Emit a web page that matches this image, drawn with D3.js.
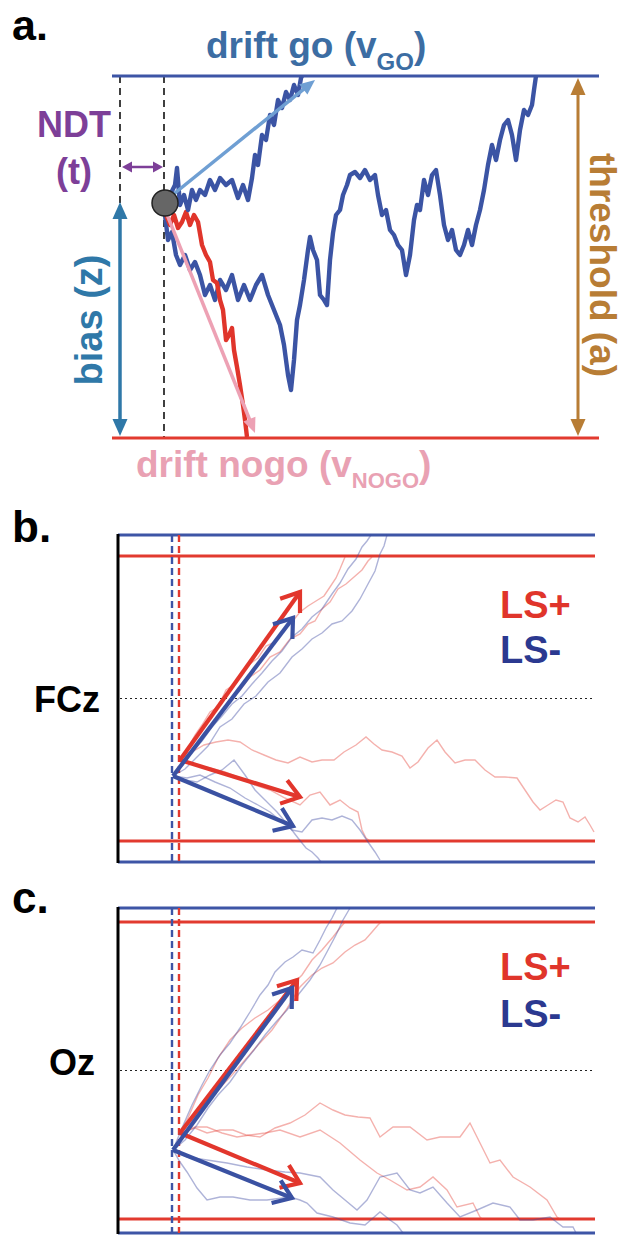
<!DOCTYPE html>
<html>
<head>
<meta charset="utf-8">
<script src="https://cdn.jsdelivr.net/npm/d3@7"></script>
<style>
  body { margin: 0; background: #fff; }
  svg { display: block; }
  text { font-family: "Liberation Sans", Arial, sans-serif; font-weight: bold; }
</style>
</head>
<body>
<div id="content"></div>
<script>
// ---- panel a : single-trial schematic (time in ms, evidence in arbitrary units)
const aThreshold = 362, aBias = 235, aNdt = 52, aNdtStart = 8, aTimeMax = 487;
const aDriftGo = [[58, 241], [203, 358]];
const aDriftNogo = [[54, 226], [143, 5]];
const aWalkGoFast = [[52,235],[58,243],[63,253],[65,270],[68,233],[72,243],[76,228],[80,248],[84,238],[88,248],[93,243],[98,258],[103,248],[108,260],[114,253],[120,258],[126,240],[131,253],[136,238],[140,260],[143,283],[146,273],[150,303],[154,298],[158,323],[162,313],[166,338],[170,330],[174,346],[178,338],[182,353],[186,343],[189,360],[190,362]];
const aWalkGoSlow = [[53,223],[56,198],[60,206],[64,183],[68,173],[73,183],[78,168],[83,176],[88,163],[93,143],[98,153],[103,138],[108,158],[114,148],[120,163],[126,138],[132,153],[138,138],[144,153],[150,163],[156,143],[162,128],[168,113],[172,93],[176,63],[179,48],[182,78],[185,118],[188,133],[192,158],[196,188],[198,201],[201,188],[205,178],[208,143],[212,138],[215,133],[218,178],[221,205],[224,223],[228,228],[231,243],[235,253],[238,263],[243,266],[248,260],[253,268],[258,258],[263,263],[266,243],[270,223],[274,228],[278,208],[282,203],[286,193],[290,188],[294,163],[298,183],[302,218],[305,233],[308,228],[312,258],[316,243],[320,263],[324,268],[328,243],[332,213],[336,198],[340,208],[344,188],[348,183],[352,193],[356,208],[360,193],[364,213],[368,228],[372,248],[376,273],[380,293],[384,278],[388,298],[392,313],[396,318],[400,303],[404,278],[408,308],[412,328],[416,323],[420,333],[422,348],[424,362]];
const aWalkNogo = [[53,226],[58,213],[62,223],[66,210],[70,216],[74,226],[78,213],[82,223],[86,216],[90,193],[94,183],[98,176],[101,158],[105,155],[108,138],[111,128],[114,98],[117,103],[120,110],[122,88],[125,71],[128,53],[131,33],[133,18],[135,1]];

// ---- panel b : FCz
const bBoundsBlue = [0, 327], bBoundsRed = [21, 306];
const bNdt = { blue: 54, red: 61 };
const bArrowsRed = [[[62,102],[182,270]], [[62,102],[182,65]]];
const bArrowsBlue = [[[55,86],[175,244]], [[55,86],[175,36]]];
const bRedWalks = [
  [[62,102],[70,114],[77,127],[84,137],[92,150],[100,155],[108,172],[117,178],[125,190],[132,198],[140,204],[148,216],[157,220],[165,232],[174,240],[182,250],[190,256],[198,261],[206,266],[212,275],[218,284],[222,293],[227,305]],
  [[62,102],[72,110],[82,121],[92,135],[102,148],[112,163],[122,172],[132,185],[142,192],[152,205],[162,210],[172,223],[182,228],[190,238],[197,241],[204,253],[212,260],[220,273],[228,278],[236,285],[244,292],[250,301],[254,305]],
  [[62,102],[74,110],[86,117],[98,120],[110,122],[122,120],[134,112],[146,107],[158,102],[170,99],[182,105],[194,100],[204,102],[216,102],[226,110],[238,117],[248,125],[256,118],[264,112],[274,110],[284,106],[292,94],[300,100],[310,114],[319,122],[327,110],[337,99],[347,102],[357,102],[367,92],[377,85],[387,85],[399,84],[407,72],[415,60],[422,52],[430,57],[438,62],[445,60],[452,44],[460,40],[467,45],[472,37],[476,30]],
  [[62,102],[77,97],[92,94],[107,90],[122,84],[137,77],[152,72],[167,64],[182,57],[192,67],[202,70],[212,57],[222,62],[232,54],[240,50],[244,32],[248,24],[252,21]]
];
const bBlueWalks = [
  [[55,86],[64,96],[74,111],[84,121],[94,135],[104,146],[114,158],[124,166],[134,178],[144,189],[154,201],[164,211],[174,225],[184,233],[194,245],[204,253],[214,268],[222,279],[230,293],[238,303],[244,315],[249,321],[253,327]],
  [[55,86],[67,93],[79,105],[90,116],[102,135],[114,143],[126,158],[138,166],[150,180],[162,189],[174,205],[184,213],[194,223],[204,229],[214,238],[224,241],[234,251],[242,263],[250,278],[257,291],[262,308],[266,316],[269,327]],
  [[55,86],[67,82],[79,80],[92,87],[104,92],[116,102],[127,87],[137,72],[147,62],[159,50],[170,37],[180,24],[188,14],[194,10],[200,4],[203,0]],
  [[55,86],[69,84],[82,87],[97,80],[112,74],[127,64],[140,57],[152,50],[164,40],[174,32],[184,30],[194,42],[204,44],[214,42],[224,46],[234,42],[242,32],[250,20],[257,10],[262,2]]
];

// ---- panel c : Oz
const cBoundsBlue = [0, 325], cBoundsRed = [14, 311];
const cNdt = { blue: 54, red: 61 };
const cArrowsRed = [[[62,100],[179,253]], [[62,100],[182,50]]];
const cArrowsBlue = [[[55,83],[174,245]], [[55,83],[174,35]]];
const cRedWalks = [
  [[62,100],[70,115],[80,138],[90,155],[100,175],[112,193],[124,205],[137,215],[150,223],[162,233],[174,248],[184,258],[194,273],[204,283],[215,296],[222,305],[227,311]],
  [[62,100],[74,113],[87,128],[100,143],[114,158],[127,173],[140,188],[154,203],[168,223],[182,246],[194,258],[204,265],[215,270],[227,281],[237,288],[247,293],[254,301],[260,308],[263,311]],
  [[62,100],[77,105],[89,100],[102,103],[115,103],[128,98],[142,96],[157,105],[172,110],[187,118],[202,130],[215,123],[227,118],[240,116],[252,115],[262,96],[275,106],[292,106],[309,93],[322,96],[342,96],[352,110],[362,90],[372,70],[382,73],[395,56],[412,46],[429,33],[439,16],[442,14]],
  [[62,100],[77,106],[89,106],[104,100],[119,96],[132,98],[147,100],[162,103],[182,96],[202,103],[222,90],[242,73],[259,60],[272,53],[289,43],[302,46],[315,56],[329,43],[339,26],[355,30],[362,16],[364,14]]
];
const cBlueWalks = [
  [[55,83],[64,105],[74,128],[84,148],[92,163],[102,178],[112,190],[122,205],[132,221],[142,238],[150,248],[157,261],[167,271],[175,276],[184,283],[195,280],[202,293],[208,305],[214,315],[219,325]],
  [[55,83],[67,93],[79,108],[90,125],[100,138],[112,151],[124,168],[136,183],[147,198],[158,211],[169,223],[180,238],[192,253],[202,268],[210,283],[218,298],[225,313],[232,325]],
  [[55,83],[69,76],[89,73],[109,70],[129,66],[149,63],[167,61],[182,60],[202,56],[215,43],[227,33],[239,23],[249,33],[262,56],[279,60],[292,43],[302,40],[315,46],[329,30],[342,16],[359,23],[375,30],[392,26],[402,13],[415,13],[432,16],[445,6],[455,6],[458,0]],
  [[55,83],[62,71],[69,61],[79,45],[89,33],[102,36],[115,36],[132,33],[149,33],[172,36],[182,33],[189,30],[199,20],[215,16],[232,10],[247,8],[262,21],[272,13],[279,8],[285,0]]
];
const bcTimeMax = 477;
const legendLabels = ['LS+', 'LS-'];

const BLUE = '#3d55a6', RED = '#e23a2f';

const svg = d3.select('#content').append('svg')
  .attr('width', 625).attr('height', 1235);

// filled triangle head at "tip", pointing away from "from"
function fillHead(g, from, tip, len, wid, color) {
  const dx = tip[0] - from[0], dy = tip[1] - from[1], d = Math.hypot(dx, dy);
  const ux = dx / d, uy = dy / d, bx = tip[0] - ux * len, by = tip[1] - uy * len;
  g.append('polygon')
    .attr('points', [[tip[0], tip[1]], [bx - uy * wid / 2, by + ux * wid / 2], [bx + uy * wid / 2, by - ux * wid / 2]].join(' '))
    .attr('fill', color);
  return [bx + ux * 1, by + uy * 1];
}
// open chevron head
function openHead(g, from, tip, len, color, w) {
  const a = Math.atan2(tip[1] - from[1], tip[0] - from[0]), s = 0.62;
  const p1 = [tip[0] - len * Math.cos(a - s), tip[1] - len * Math.sin(a - s)];
  const p2 = [tip[0] - len * Math.cos(a + s), tip[1] - len * Math.sin(a + s)];
  g.append('polyline').attr('points', [p1, tip, p2].join(' '))
    .attr('fill', 'none').attr('stroke', color).attr('stroke-width', w)
    .attr('stroke-linejoin', 'miter').attr('stroke-linecap', 'butt');
}

// ================= panel a =================
const xa = d3.scaleLinear().domain([0, aTimeMax]).range([112, 599]);
const ya = d3.scaleLinear().domain([0, aThreshold]).range([438, 76]);
const ga = svg.append('g');
const lineA = d3.line().x(d => xa(d[0])).y(d => ya(d[1]));

ga.append('text').attr('x', 12).attr('y', 40).attr('font-size', 43).attr('fill', '#000').text('a.');

// dashed NDT guides
ga.append('line').attr('x1', xa(aNdtStart)).attr('x2', xa(aNdtStart)).attr('y1', ya(aThreshold)).attr('y2', ya(aBias) + 2)
  .attr('stroke', '#111').attr('stroke-width', 1.6).attr('stroke-dasharray', '7,5');
ga.append('line').attr('x1', xa(aNdt)).attr('x2', xa(aNdt)).attr('y1', ya(aThreshold)).attr('y2', ya(0))
  .attr('stroke', '#111').attr('stroke-width', 1.6).attr('stroke-dasharray', '7,5');

// bounds
ga.append('line').attr('x1', xa(0)).attr('x2', xa(aTimeMax)).attr('y1', ya(aThreshold)).attr('y2', ya(aThreshold))
  .attr('stroke', BLUE).attr('stroke-width', 3);
ga.append('line').attr('x1', xa(0)).attr('x2', xa(aTimeMax)).attr('y1', ya(0)).attr('y2', ya(0))
  .attr('stroke', RED).attr('stroke-width', 3);

// walks
ga.append('path').datum(aWalkGoSlow).attr('d', lineA).attr('fill', 'none').attr('stroke', '#3b54a4').attr('stroke-width', 4.4).attr('stroke-linejoin', 'round');
ga.append('path').datum(aWalkNogo).attr('d', lineA).attr('fill', 'none').attr('stroke', '#e0352b').attr('stroke-width', 4.4).attr('stroke-linejoin', 'round');
ga.append('path').datum(aWalkGoFast).attr('d', lineA).attr('fill', 'none').attr('stroke', '#3b54a4').attr('stroke-width', 4.4).attr('stroke-linejoin', 'round');

// drift arrows
[[aDriftGo, '#6f9fd3'], [aDriftNogo, '#eda1b4']].forEach(([pts, col]) => {
  const from = [xa(pts[0][0]), ya(pts[0][1])], tip = [xa(pts[1][0]), ya(pts[1][1])];
  const base = fillHead(ga, from, tip, 15, 13, col);
  ga.append('line').attr('x1', from[0]).attr('y1', from[1]).attr('x2', base[0]).attr('y2', base[1])
    .attr('stroke', col).attr('stroke-width', 3.5);
});

// starting point
ga.append('circle').attr('cx', xa(aNdt) + 1).attr('cy', ya(aBias)).attr('r', 13)
  .attr('fill', '#666').attr('stroke', '#222').attr('stroke-width', 1.5);

// double arrows
function doubleArrow(g, p, q, col, w, len, wid) {
  const b1 = fillHead(g, q, p, len, wid, col);
  const b2 = fillHead(g, p, q, len, wid, col);
  g.append('line').attr('x1', b1[0]).attr('y1', b1[1]).attr('x2', b2[0]).attr('y2', b2[1])
    .attr('stroke', col).attr('stroke-width', w);
}
doubleArrow(ga, [xa(aNdtStart), ya(aBias) - 1], [xa(aNdtStart), ya(0) - 2], '#2f78a8', 3.5, 17, 15);
doubleArrow(ga, [578, ya(aThreshold) + 2], [578, ya(0) - 2], '#b87d35', 3, 17, 15);
doubleArrow(ga, [xa(aNdtStart) + 2, 167], [xa(aNdt) - 1, 167], '#7d3f98', 2.5, 10, 11);

// labels
ga.append('text').attr('x', 74).attr('y', 137).attr('text-anchor', 'middle').attr('font-size', 36).attr('fill', '#7d3f98').text('NDT');
ga.append('text').attr('x', 74).attr('y', 184).attr('text-anchor', 'middle').attr('font-size', 36).attr('fill', '#7d3f98').text('(t)');

const tGo = ga.append('text').attr('x', 206).attr('y', 58).attr('font-size', 37).attr('fill', '#3c6da3');
tGo.append('tspan').text('drift go (v');
tGo.append('tspan').attr('font-size', 24).attr('dy', 12).text('GO');
tGo.append('tspan').attr('dy', -12).text(')');

const tNogo = ga.append('text').attr('x', 136).attr('y', 477).attr('font-size', 37).attr('fill', '#e9a1b3');
tNogo.append('tspan').text('drift nogo (v');
tNogo.append('tspan').attr('font-size', 22).attr('dy', 11).text('NOGO');
tNogo.append('tspan').attr('dy', -11).text(')');

ga.append('text').attr('transform', 'translate(102,320) rotate(-90)').attr('text-anchor', 'middle')
  .attr('font-size', 38).attr('fill', '#2f78a8').text('bias (z)');
ga.append('text').attr('transform', 'translate(590,265) rotate(90)').attr('text-anchor', 'middle')
  .attr('font-size', 37).attr('fill', '#b87d35').text('threshold (a)');

// ================= panels b, c =================
const xbc = d3.scaleLinear().domain([0, bcTimeMax]).range([118, 595]);

function drawPanel(cfg) {
  const y = d3.scaleLinear().domain([0, cfg.boundsBlue[1]]).range(cfg.yRange);
  const g = svg.append('g');
  const line = d3.line().x(d => xbc(d[0])).y(d => y(d[1]));

  g.append('text').attr('x', 12).attr('y', cfg.letterY).attr('font-size', 44).attr('fill', '#000').text(cfg.letter);
  g.append('text').attr('x', cfg.siteX).attr('y', cfg.siteY).attr('font-size', 36).attr('fill', '#000').text(cfg.site);

  // midline
  g.append('line').attr('x1', xbc(2)).attr('x2', xbc(bcTimeMax - 2))
    .attr('y1', y(cfg.boundsBlue[1] / 2)).attr('y2', y(cfg.boundsBlue[1] / 2))
    .attr('stroke', '#222').attr('stroke-width', 1.2).attr('stroke-dasharray', '2,3');

  // bounds
  cfg.boundsBlue.forEach(v => g.append('line').attr('x1', xbc(0)).attr('x2', xbc(bcTimeMax)).attr('y1', y(v)).attr('y2', y(v))
    .attr('stroke', BLUE).attr('stroke-width', 3));
  cfg.boundsRed.forEach(v => g.append('line').attr('x1', xbc(0)).attr('x2', xbc(bcTimeMax)).attr('y1', y(v)).attr('y2', y(v))
    .attr('stroke', RED).attr('stroke-width', 3));

  // ndt dashed
  [['blue', BLUE], ['red', RED]].forEach(([k, col]) => {
    g.append('line').attr('x1', xbc(cfg.ndt[k])).attr('x2', xbc(cfg.ndt[k])).attr('y1', y(cfg.boundsBlue[1])).attr('y2', y(0))
      .attr('stroke', col).attr('stroke-width', 2.4).attr('stroke-dasharray', '7,4');
  });

  // walks
  cfg.redWalks.forEach(w => g.append('path').datum(w).attr('d', line).attr('fill', 'none')
    .attr('stroke', '#e4463c').attr('stroke-opacity', 0.42).attr('stroke-width', 1.4));
  cfg.blueWalks.forEach(w => g.append('path').datum(w).attr('d', line).attr('fill', 'none')
    .attr('stroke', '#3d49a3').attr('stroke-opacity', 0.42).attr('stroke-width', 1.4));

  // drift arrows
  [[cfg.arrowsRed, '#e2362c'], [cfg.arrowsBlue, '#3a51a2']].forEach(([arr, col]) => {
    arr.forEach(a => {
      const p = [xbc(a[0][0]), y(a[0][1])], q = [xbc(a[1][0]), y(a[1][1])];
      g.append('line').attr('x1', p[0]).attr('y1', p[1]).attr('x2', q[0]).attr('y2', q[1])
        .attr('stroke', col).attr('stroke-width', 4.2);
      openHead(g, p, q, 21, col, 4.2);
    });
  });

  // left axis
  g.append('line').attr('x1', xbc(0)).attr('x2', xbc(0)).attr('y1', y(cfg.boundsBlue[1]) - 1).attr('y2', y(0) + 1)
    .attr('stroke', '#000').attr('stroke-width', 3);

  // legend
  g.append('text').attr('x', 500).attr('y', cfg.legendY[0]).attr('font-size', 38).attr('fill', '#e0352b').text(legendLabels[0]);
  g.append('text').attr('x', 500).attr('y', cfg.legendY[1]).attr('font-size', 38).attr('fill', '#2b3990').text(legendLabels[1]);
}

drawPanel({ letter: 'b.', letterY: 542, site: 'FCz', siteX: 34, siteY: 712, yRange: [862, 535],
  boundsBlue: bBoundsBlue, boundsRed: bBoundsRed, ndt: bNdt, redWalks: bRedWalks, blueWalks: bBlueWalks,
  arrowsRed: bArrowsRed, arrowsBlue: bArrowsBlue, legendY: [618, 663] });
drawPanel({ letter: 'c.', letterY: 913, site: 'Oz', siteX: 49, siteY: 1075, yRange: [1233, 908],
  boundsBlue: cBoundsBlue, boundsRed: cBoundsRed, ndt: cNdt, redWalks: cRedWalks, blueWalks: cBlueWalks,
  arrowsRed: cArrowsRed, arrowsBlue: cArrowsBlue, legendY: [980, 1027] });
</script>
</body>
</html>
